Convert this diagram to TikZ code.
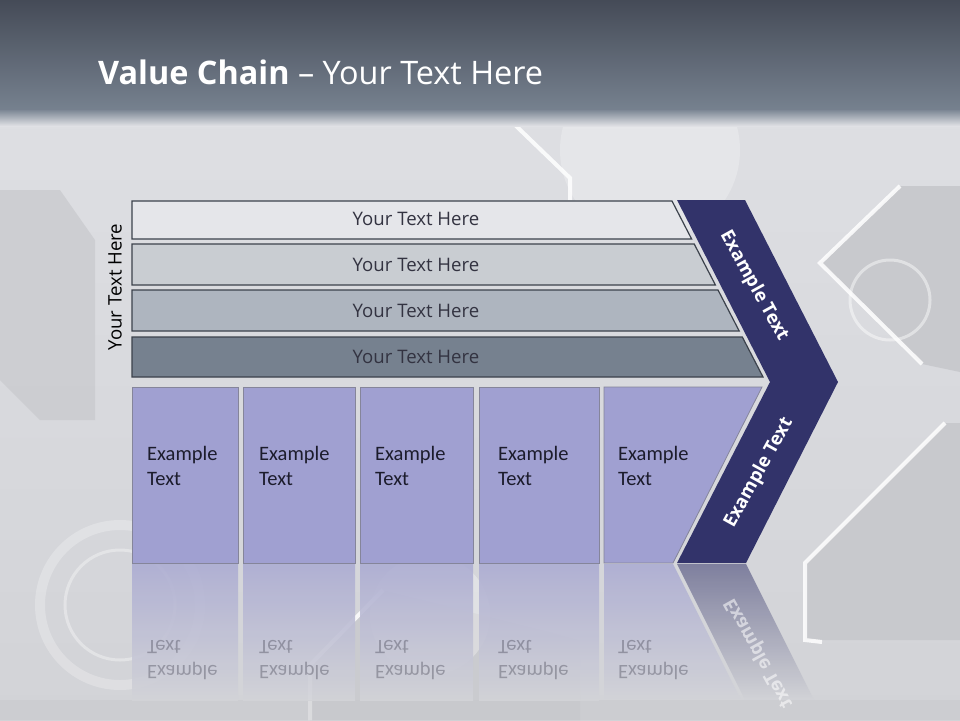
\documentclass[tikz,border=0pt]{standalone}
\usepackage{fontspec}
\setmainfont{Carlito}
\newfontfamily\osans{Open Sans}
\definecolor{bgtop}{HTML}{E0E1E5}
\definecolor{bgbot}{HTML}{D2D3D7}
\definecolor{bgdark}{HTML}{C8C9CD}
\definecolor{hdtop}{HTML}{454B57}
\definecolor{hdbot}{HTML}{76818F}
\definecolor{barA}{HTML}{E5E6EA}
\definecolor{barB}{HTML}{C9CDD2}
\definecolor{barC}{HTML}{AEB5BF}
\definecolor{barD}{HTML}{76818F}
\definecolor{barline}{HTML}{3C424C}
\definecolor{navy}{HTML}{32336A}
\definecolor{lav}{HTML}{A0A0D1}
\definecolor{lavline}{HTML}{85859A}
\definecolor{txtdark}{HTML}{1C1C2C}
\begin{document}
\begin{tikzpicture}[x=1pt,y=-1pt,
  barshape/.style={draw=barline,line width=1.2pt},
  bartext/.style={font=\osans\fontsize{18.6}{22}\selectfont,text=txtdark!90},
  boxshape/.style={fill=lav,draw=lavline,line width=0.8pt},
  boxtext/.style={font=\fontsize{20.5}{25}\selectfont,text=txtdark,align=left,anchor=west,inner sep=0pt},
  refltext/.style={font=\fontsize{20.5}{25}\selectfont,text=txtdark,text opacity=0.3,align=left,anchor=west,inner sep=0pt,yscale=-1},
  chevtext/.style={font=\osans\bfseries\fontsize{18.5}{20}\selectfont,text=white,inner sep=0pt},
  deco/.style={white,line width=4pt,opacity=0.85}
]
\useasboundingbox (0,0) rectangle (960,720);
% background
\shade[top color=bgtop,bottom color=bgbot] (0,0) rectangle (960,720);
% decorative background shapes
\fill[bgdark] (900,186) -- (960,186) -- (960,372) -- (922,364) -- (820,263) -- cycle;
\draw[deco] (900,186) -- (820,263) -- (922,364);
\fill[bgdark] (945,423) -- (960,423) -- (960,640) -- (805,640) -- (805,563) -- cycle;
\draw[deco] (945,423) -- (805,563) -- (805,640) -- (822,642);
\fill[bgdark,opacity=0.7] (0,190) -- (60,190) -- (95,240) -- (95,420) -- (40,420) -- (0,380) -- cycle;
\fill[bgdark,opacity=0.8] (383,590) -- (310,665) -- (310,720) -- (580,720) -- (580,640) -- cycle;
\draw[deco] (383,590) -- (310,665) -- (310,720);
\draw[deco] (513,123) -- (570,178) -- (570,200);
\fill[white,opacity=0.25] (650,150) circle (90);
\draw[white,opacity=0.35,line width=3pt] (120,605) circle (55);
\draw[white,opacity=0.25,line width=10pt] (120,605) circle (80);
\fill[white,opacity=0.3] (430,615) circle (60);
\draw[white,opacity=0.45,line width=3pt] (890,300) circle (40);
\fill[bgdark,opacity=0.6] (0,700) rectangle (960,720);
% header
\shade[top color=hdtop,bottom color=hdbot] (0,0) rectangle (960,110);
\shade[top color=hdbot!95!white,bottom color=bgtop] (0,110) rectangle (960,126);
\node[anchor=base west,text=white,font=\osans\fontsize{32.4}{38}\selectfont,inner sep=0pt] (title) at (98,84) {\textbf{Value Chain} – Your Text Here};
% bars
\fill[barA,barshape] (132,201) -- (672,201) -- (691.6,239) -- (132,239) -- cycle;
\fill[barB,barshape] (132,244) -- (694.2,244) -- (715.4,285) -- (132,285) -- cycle;
\fill[barC,barshape] (132,290) -- (718,290) -- (739.2,331) -- (132,331) -- cycle;
\fill[barD,barshape] (132,337) -- (742.3,337) -- (763,377) -- (132,377) -- cycle;
\node[bartext] (b1) at (416,219) {Your Text Here};
\node[bartext] (b2) at (416,265) {Your Text Here};
\node[bartext] (b3) at (416,311) {Your Text Here};
\node[bartext] (b4) at (416,357) {Your Text Here};
\node[bartext,text=black,rotate=90] (side) at (115,287) {Your Text Here};
% chevron
\fill[navy] (677,200) -- (745,200) -- (838,382) -- (746,563) -- (677,563) -- (770,382) -- cycle;
\node[chevtext,rotate=-61] (c1) at (754,286) {Example Text};
\node[chevtext,rotate=61] (c2) at (759,473) {Example Text};
% boxes
\draw[boxshape] (132,387) rectangle (238,563);
\draw[boxshape] (243,387) rectangle (355,563);
\draw[boxshape] (360,387) rectangle (473,563);
\draw[boxshape] (479,387) rectangle (599,563);
\draw[boxshape] (604,387) -- (762,387) -- (673,563) -- (604,563) -- cycle;
\node[boxtext] (t1) at (147,465.5) {Example\\Text};
\node[boxtext] (t2) at (259,465.5) {Example\\Text};
\node[boxtext] (t3) at (375,465.5) {Example\\Text};
\node[boxtext] (t4) at (498,465.5) {Example\\Text};
\node[boxtext] (t5) at (618,465.5) {Example\\Text};
% reflection
\shade[top color=lav!75!bgbot,bottom color=bgbot,opacity=0.9] (132,564) rectangle (238,700);
\shade[top color=lav!75!bgbot,bottom color=bgbot,opacity=0.9] (243,564) rectangle (355,700);
\shade[top color=lav!75!bgbot,bottom color=bgbot,opacity=0.9] (360,564) rectangle (473,700);
\shade[top color=lav!75!bgbot,bottom color=bgbot,opacity=0.9] (479,564) rectangle (599,700);
\shade[top color=lav!75!bgbot,bottom color=bgbot,opacity=0.9] (604,564) -- (673,564) -- (741,700) -- (604,700) -- cycle;
\shade[top color=navy!55!bgbot,bottom color=bgbot,opacity=0.95] (677,564) -- (746,564) -- (814,700) -- (745,700) -- cycle;
\node[refltext] (r1) at (147,660.5) {Example\\Text};
\node[refltext] (r2) at (259,660.5) {Example\\Text};
\node[refltext] (r3) at (375,660.5) {Example\\Text};
\node[refltext] (r4) at (498,660.5) {Example\\Text};
\node[refltext] (r5) at (618,660.5) {Example\\Text};
\node[chevtext,text opacity=0.55,rotate=-61,yscale=-1] (rc) at (759,653) {Example Text};
\end{tikzpicture}
\end{document}
